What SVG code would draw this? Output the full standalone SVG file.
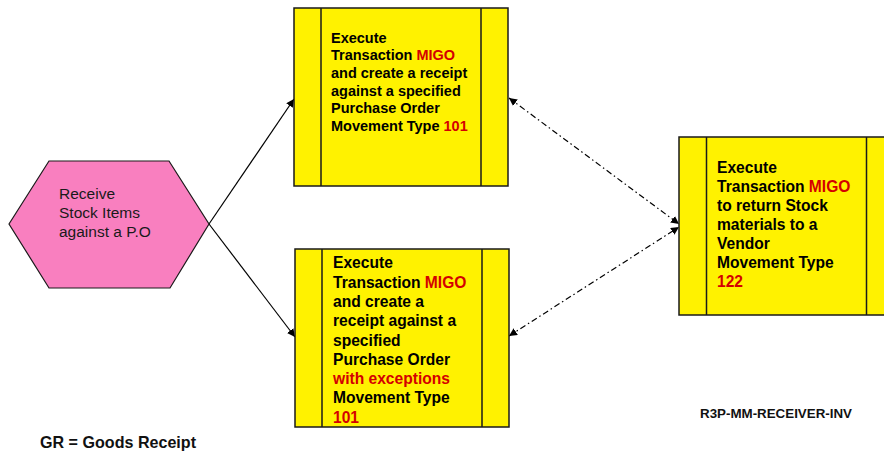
<svg xmlns="http://www.w3.org/2000/svg" width="884" height="454" viewBox="0 0 884 454">
  <style>
    .box { fill: #FFF200; stroke: #1a1a1a; stroke-width: 1.5; }
    .bar { stroke: #1a1a1a; stroke-width: 1.5; }
    .hex { fill: #F97FBF; stroke: #1a1a1a; stroke-width: 1.2; }
    .bt { font-family: "Liberation Sans", Arial, sans-serif; font-weight: bold; fill: #000; }
    .red { fill: #D40000; }
    .rt { font-family: "Liberation Sans", Arial, sans-serif; fill: #1a1a1a; font-size: 15.5px; }
    .flow { fill: none; stroke: #000; stroke-width: 1.2; }
    .link { fill: none; stroke: #000; stroke-width: 1.2; stroke-dasharray: 6 3 1.5 3; }
  </style>
  <defs>
    <marker id="arrow" viewBox="0 0 10 10" refX="10" refY="5" markerWidth="8" markerHeight="8" markerUnits="userSpaceOnUse" orient="auto-start-reverse">
      <path d="M0,0 L10,5 L0,10 z" fill="#000"/>
    </marker>
  </defs>

  <rect width="884" height="454" fill="#fff"/>

  <!-- connectors -->
  <g id="connectors">
    <line class="flow" x1="209" y1="224" x2="294" y2="99" marker-end="url(#arrow)"/>
    <line class="flow" x1="209" y1="224" x2="295" y2="337" marker-end="url(#arrow)"/>
    <line class="link" x1="509" y1="98" x2="679" y2="224" marker-start="url(#arrow)" marker-end="url(#arrow)"/>
    <line class="link" x1="509" y1="336" x2="679" y2="227" marker-start="url(#arrow)" marker-end="url(#arrow)"/>
  </g>

  <!-- start event -->
  <g id="receive">
    <polygon class="hex" points="9,224 49,161 169,161 209,224 170,288 49,288"/>
    <text class="rt" x="59" y="199">Receive</text>
    <text class="rt" x="59" y="218">Stock Items</text>
    <text class="rt" x="59" y="237">against a P.O</text>
  </g>

  <!-- receipt against PO -->
  <g id="receipt">
    <rect class="box" x="294" y="8" width="214" height="178"/>
    <line class="bar" x1="321" y1="8" x2="321" y2="186"/>
    <line class="bar" x1="481" y1="8" x2="481" y2="186"/>
    <g class="bt" font-size="14.5">
      <text x="331" y="42.7">Execute</text>
      <text x="331" y="60.3">Transaction <tspan class="red">MIGO</tspan></text>
      <text x="331" y="77.9">and create a receipt</text>
      <text x="331" y="95.5">against a specified</text>
      <text x="331" y="113.1">Purchase Order</text>
      <text x="331" y="130.7">Movement Type <tspan class="red">101</tspan></text>
    </g>
  </g>

  <!-- receipt with exceptions -->
  <g id="receipt-exceptions">
    <rect class="box" x="295" y="249" width="214" height="178"/>
    <line class="bar" x1="322" y1="249" x2="322" y2="427"/>
    <line class="bar" x1="482" y1="249" x2="482" y2="427"/>
    <g class="bt" font-size="15.6">
      <text x="333" y="268.3">Execute</text>
      <text x="333" y="287.6">Transaction <tspan class="red">MIGO</tspan></text>
      <text x="333" y="306.9">and create a</text>
      <text x="333" y="326.2">receipt against a</text>
      <text x="333" y="345.5">specified</text>
      <text x="333" y="364.8">Purchase Order</text>
      <text x="333" y="384.1" class="red">with exceptions</text>
      <text x="333" y="403.4">Movement Type</text>
      <text x="333" y="422.7" class="red">101</text>
    </g>
  </g>

  <!-- return to vendor -->
  <g id="return">
    <rect class="box" x="679" y="137" width="214" height="178"/>
    <line class="bar" x1="706.5" y1="137" x2="706.5" y2="315"/>
    <line class="bar" x1="866.5" y1="137" x2="866.5" y2="315"/>
    <g class="bt" font-size="15.6">
      <text x="717" y="172.7">Execute</text>
      <text x="717" y="191.8">Transaction <tspan class="red">MIGO</tspan></text>
      <text x="717" y="210.9">to return Stock</text>
      <text x="717" y="230">materials to a</text>
      <text x="717" y="249.1">Vendor</text>
      <text x="717" y="268.2">Movement Type</text>
      <text x="717" y="287.3" class="red">122</text>
    </g>
  </g>

  <!-- footnotes -->
  <text x="40" y="448" font-family="Liberation Sans, Arial, sans-serif" font-size="16.5" font-weight="bold" fill="#111" textLength="156" lengthAdjust="spacingAndGlyphs">GR = Goods Receipt</text>
  <text x="700" y="418" font-family="Liberation Sans, Arial, sans-serif" font-size="12.5" font-weight="bold" fill="#111" textLength="152" lengthAdjust="spacingAndGlyphs">R3P-MM-RECEIVER-INV</text>
</svg>
